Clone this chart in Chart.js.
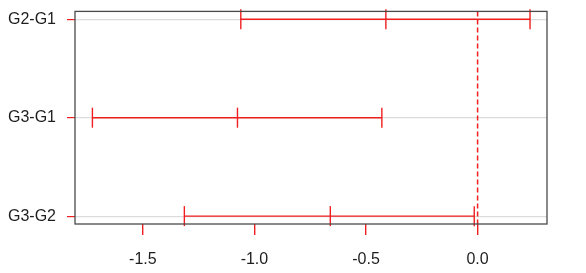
<!DOCTYPE html>
<html>
<head>
<meta charset="utf-8">
<script src="https://cdn.jsdelivr.net/npm/chart.js@4"></script>
<style>
  html, body { margin: 0; padding: 0; background: #fff; }
  #wrap { width: 586px; height: 273px; }
</style>
</head>
<body>
<div id="wrap"><canvas id="tukey"></canvas></div>
<script>
// pairwise differences with their confidence limits
const comparisons = ['G2-G1', 'G3-G1', 'G3-G2'];
const diffs  = [-0.411, -1.076, -0.660];
const lowers = [-1.061, -1.726, -1.314];
const uppers = [ 0.235, -0.429, -0.015];
const xTicks = [-1.5, -1.0, -0.5, 0.0];
const xRange = [-1.804, 0.311];
const yRange = [0.92, 3.08];

const red = 'rgb(240, 30, 30)';

// box round the plot region, like base R graphics
const framePlugin = {
    id: 'frame',
    afterDatasetsDraw: function(chart) {
	var a = chart.chartArea;
	var ctx = chart.ctx;
	ctx.save();
	ctx.strokeStyle = '#4a4a4a';
	ctx.lineWidth = 1.3;
	ctx.strokeRect(a.left, a.top, a.right - a.left, a.bottom - a.top);
	ctx.restore();
    }
};

var datasets = [];
for (let i = 0; i < comparisons.length; i++) {
    datasets.push({
	label: comparisons[i],
	data: [
	    { x: lowers[i], y: i + 1 },
	    { x: diffs[i], y: i + 1 },
	    { x: uppers[i], y: i + 1 }
	],
	borderColor: red,
	borderWidth: 1.4,
	pointStyle: 'line',
	rotation: 90,
	pointRadius: 10,
	pointBorderColor: red,
	pointBorderWidth: 1.4,
	clip: false
    });
}
// zero line
datasets.push({
    label: 'zero',
    data: [{ x: 0, y: yRange[0] }, { x: 0, y: yRange[1] }],
    borderColor: red,
    borderWidth: 1.5,
    borderDash: [5, 3],
    pointRadius: 0
});

new Chart(document.getElementById('tukey'), {
    type: 'line',
    data: { datasets: datasets },
    plugins: [framePlugin],
    options: {
	responsive: true,
	maintainAspectRatio: false,
	animation: false,
	events: [],
	layout: { padding: { top: 10, right: 39, left: 0, bottom: 0 } },
	plugins: {
	    legend: { display: false },
	    tooltip: { enabled: false }
	},
	scales: {
	    x: {
		type: 'linear',
		min: xRange[0],
		max: xRange[1],
		afterBuildTicks: function(axis) {
		    axis.ticks = xTicks.map(function(v) { return { value: v }; });
		},
		afterFit: function(axis) { axis.height = 49; },
		border: { display: false },
		grid: {
		    drawOnChartArea: false,
		    tickColor: red,
		    tickLength: 11,
		    lineWidth: 1.4
		},
		ticks: {
		    padding: 15,
		    color: '#1e1e1e',
		    font: { family: 'Liberation Sans, Arial, sans-serif', size: 16 },
		    callback: function(v) { return v.toFixed(1); }
		}
	    },
	    y: {
		type: 'linear',
		reverse: true,
		min: yRange[0],
		max: yRange[1],
		afterBuildTicks: function(axis) {
		    axis.ticks = comparisons.map(function(c, i) { return { value: i + 1 }; });
		},
		afterFit: function(axis) {
		    axis.width = 75;
		    axis.paddingTop = 0;
		    axis.paddingBottom = 0;
		},
		border: { display: false },
		grid: {
		    color: '#dcdcdc',
		    lineWidth: 1.2,
		    tickColor: red,
		    tickLength: 8
		},
		ticks: {
		    padding: 11,
		    color: '#1e1e1e',
		    font: { family: 'Liberation Sans, Arial, sans-serif', size: 16 },
		    callback: function(v) { return comparisons[Math.round(v) - 1]; }
		}
	    }
	}
    }
});
</script>
</body>
</html>
